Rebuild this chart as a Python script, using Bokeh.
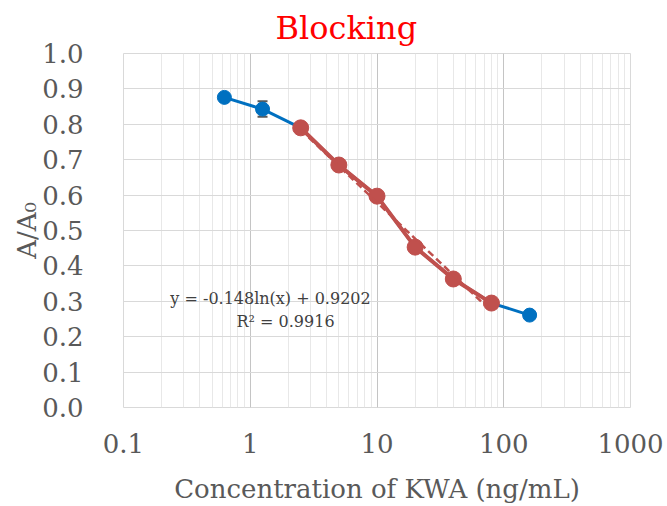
import numpy as np
from bokeh.plotting import figure
from bokeh.models import FixedTicker, CustomJSTickFormatter, Whisker, ColumnDataSource, Label
from bokeh.embed import file_html
from bokeh.resources import INLINE

# data
conc_all = [0.625, 1.25, 2.5, 5, 10, 20, 40, 80, 160]
resp_all = [0.876, 0.843, 0.790, 0.685, 0.597, 0.453, 0.363, 0.295, 0.261]
err_all = [0.004, 0.022, 0.004, 0.004, 0.004, 0.004, 0.004, 0.004, 0.004]
conc_lin = [2.5, 5, 10, 20, 40, 80]
resp_lin = [0.790, 0.685, 0.597, 0.453, 0.363, 0.295]
fit_slope = -0.148
fit_icpt = 0.9202
eq_text = "y = -0.148ln(x) + 0.9202"
r2_text = "R² = 0.9916"
x_ticks = [0.1, 1, 10, 100, 1000]
y_ticks = [round(0.1 * i, 1) for i in range(11)]

FONT = "DejaVu Serif"
W, H = 667, 506

p = figure(width=W, height=H, x_axis_type="log", x_range=(0.1, 1000), y_range=(0, 1.0),
           output_backend="svg", toolbar_location=None,
           min_border_left=123, min_border_right=W - 630, min_border_top=52, min_border_bottom=H - 408)

minor = [m * d for d in [0.1, 1, 10, 100] for m in range(2, 10)]
p.xaxis.ticker = FixedTicker(ticks=x_ticks, minor_ticks=minor)
p.xaxis.formatter = CustomJSTickFormatter(code="return tick.toString();")
p.yaxis.ticker = FixedTicker(ticks=y_ticks)
p.yaxis.formatter = CustomJSTickFormatter(code="return tick.toFixed(1);")

for ax in (p.xaxis, p.yaxis):
    ax.axis_line_color = None
    ax.major_tick_line_color = None
    ax.minor_tick_line_color = None
    ax.major_label_text_font = FONT
    ax.major_label_text_font_size = "26px"
    ax.major_label_text_color = "#595959"
    ax.axis_label_text_font = FONT
    ax.axis_label_text_font_size = "26px"
    ax.axis_label_text_color = "#595959"
    ax.axis_label_text_font_style = "normal"

p.xaxis.axis_label = "Concentration of KWA (ng/mL)"
p.yaxis.axis_label = "A/A₀"
p.xaxis.major_label_standoff = 20
p.yaxis.major_label_standoff = 34
p.xaxis.axis_label_standoff = 18
p.yaxis.axis_label_standoff = -3

p.xgrid.grid_line_color = "#C4C4C4"
p.xgrid.minor_grid_line_color = "#E8E8E8"
p.ygrid.grid_line_color = "#D9D9D9"
p.outline_line_color = "#D9D9D9"

p.title.text = "Blocking"
p.title.text_color = "#FF0000"
p.title.text_font = FONT
p.title.text_font_size = "32px"
p.title.text_font_style = "normal"
p.title.align = "left"
p.title.offset = 152
p.title.standoff = 13

# blue series
p.line(conc_all, resp_all, line_color="#0070C0", line_width=3)
p.scatter(conc_all, resp_all, size=14, fill_color="#0070C0", line_color="#0070C0")

# error bars
lo = [r - e for r, e in zip(resp_all, err_all)]
hi = [r + e for r, e in zip(resp_all, err_all)]
src = ColumnDataSource(dict(x=conc_all, y=resp_all, lo=lo, hi=hi))
w = Whisker(source=src, base="x", lower="lo", upper="hi", dimension="height",
            line_color="#595959", line_width=1.5)
w.upper_head.line_color = "#595959"
w.lower_head.line_color = "#595959"
w.upper_head.line_width = 2
w.lower_head.line_width = 2
w.upper_head.size = 10
w.lower_head.size = 10
p.add_layout(w)

# red series
p.line(conc_lin, resp_lin, line_color="#C0504D", line_width=4)
p.scatter(conc_lin, resp_lin, size=16, fill_color="#C0504D", line_color="#C0504D")

# trendline
xs = np.logspace(np.log10(conc_lin[0]), np.log10(conc_lin[-1]), 60)
ys = fit_slope * np.log(xs) + fit_icpt
p.line(xs, ys, line_color="#C0504D", line_width=2.5, line_dash="7 4")

p.add_layout(Label(x=1.445, y=0.309, text=eq_text, text_align="center", text_baseline="middle",
                   text_font=FONT, text_font_size="16px", text_color="#404040"))
p.add_layout(Label(x=1.9, y=0.2416, text=r2_text, text_align="center", text_baseline="middle",
                   text_font=FONT, text_font_size="16px", text_color="#404040"))

open("out.html", "w").write(file_html(p, INLINE))
